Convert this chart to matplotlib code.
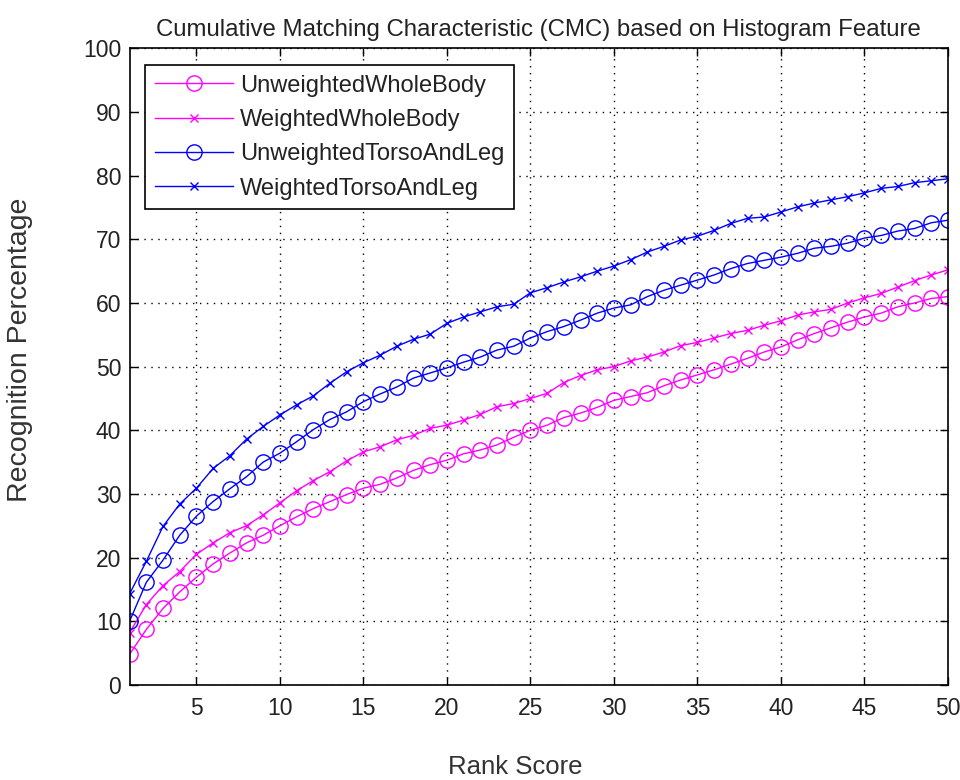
import matplotlib
matplotlib.use("Agg")
import matplotlib.pyplot as plt
import numpy as np

plt.rcParams["font.family"] = ["Liberation Sans", "DejaVu Sans"]

rank = np.arange(1, 51)

unweighted_whole = [
    4.8, 8.7, 12.0, 14.6, 16.9, 19.0, 20.7, 22.3, 23.5, 25.0,
    26.4, 27.7, 28.8, 29.9, 30.9, 31.5, 32.5, 33.7, 34.6, 35.3,
    36.3, 36.9, 37.7, 38.9, 40.0, 40.8, 42.0, 42.7, 43.6, 44.7,
    45.3, 45.9, 47.0, 47.9, 48.7, 49.5, 50.4, 51.3, 52.3, 53.1,
    54.2, 55.2, 56.1, 57.0, 57.8, 58.4, 59.4, 60.0, 60.7, 61.0,
]
weighted_whole = [
    8.2, 12.6, 15.6, 17.8, 20.5, 22.3, 23.9, 25.0, 26.7, 28.6,
    30.5, 32.1, 33.5, 35.2, 36.6, 37.4, 38.5, 39.2, 40.3, 40.8,
    41.6, 42.5, 43.7, 44.2, 45.0, 45.8, 47.5, 48.6, 49.5, 50.0,
    50.9, 51.5, 52.3, 53.3, 53.8, 54.5, 55.2, 55.7, 56.5, 57.2,
    58.1, 58.6, 59.0, 60.0, 60.8, 61.5, 62.5, 63.5, 64.4, 65.2,
]
unweighted_torso = [
    10.0, 16.1, 19.6, 23.5, 26.5, 28.8, 30.8, 32.7, 35.0, 36.4,
    38.2, 40.1, 41.7, 42.9, 44.5, 45.7, 46.8, 48.2, 49.0, 49.8,
    50.7, 51.5, 52.6, 53.2, 54.5, 55.5, 56.3, 57.3, 58.4, 59.2,
    59.7, 61.0, 62.0, 62.8, 63.6, 64.4, 65.4, 66.2, 66.7, 67.2,
    67.8, 68.6, 68.9, 69.4, 70.2, 70.6, 71.3, 71.7, 72.6, 73.0,
]
weighted_torso = [
    14.3, 19.4, 24.9, 28.4, 30.9, 34.0, 36.0, 38.6, 40.6, 42.4,
    44.0, 45.4, 47.4, 49.2, 50.6, 51.8, 53.2, 54.3, 55.1, 56.8,
    57.8, 58.6, 59.4, 59.8, 61.6, 62.4, 63.3, 64.1, 65.0, 65.8,
    66.8, 68.0, 68.9, 69.9, 70.5, 71.4, 72.5, 73.3, 73.5, 74.3,
    75.1, 75.7, 76.2, 76.7, 77.3, 78.0, 78.3, 78.9, 79.2, 79.5,
]

labels = [
    "UnweightedWholeBody",
    "WeightedWholeBody",
    "UnweightedTorsoAndLeg",
    "WeightedTorsoAndLeg",
]

fig = plt.figure(figsize=(9.6, 7.8), dpi=100)
ax = fig.add_axes([0.135, 0.122, 0.8525, 0.816])

mag = "#FF00FF"
blu = "#0000FF"
ax.plot(rank, unweighted_whole, color=mag, marker="o", markersize=11,
        markerfacecolor="none", markeredgewidth=1.0, linewidth=1.0, label=labels[0])
ax.plot(rank, weighted_whole, color=mag, marker="x", markersize=6,
        markeredgewidth=1.0, linewidth=1.0, label=labels[1])
ax.plot(rank, unweighted_torso, color=blu, marker="o", markersize=11,
        markerfacecolor="none", markeredgewidth=1.0, linewidth=1.0, label=labels[2])
ax.plot(rank, weighted_torso, color=blu, marker="x", markersize=6,
        markeredgewidth=1.0, linewidth=1.0, label=labels[3])

ax.set_xlim(1, 50)
ax.set_ylim(0, 100)
ax.set_xticks(np.arange(5, 51, 5))
ax.set_yticks(np.arange(0, 101, 10))
ax.tick_params(direction="in", top=True, right=True, labelsize=16.5, length=6,
               width=1, labelcolor="#222222")
ax.tick_params(axis="x", pad=9)
ax.tick_params(axis="y", pad=6)
ax.grid(True, color="black", linestyle=(0, (1, 4)), linewidth=1.0)
for s in ax.spines.values():
    s.set_linewidth(1.2)

ax.set_title("Cumulative Matching Characteristic (CMC) based on Histogram Feature",
             fontsize=17.3, pad=9, color="#222222")
ax.set_xlabel("Rank Score", fontsize=18.5, color="#333333")
ax.set_ylabel("Recognition Percentage", fontsize=20.5, color="#333333")
ax.xaxis.set_label_coords(0.471, -0.11)
ax.yaxis.set_label_coords(-0.118, 0.526)

leg = ax.legend(loc="upper left", bbox_to_anchor=(0.005, 0.992), fontsize=17,
                frameon=True, fancybox=False, edgecolor="black", framealpha=1,
                handlelength=3.3, borderpad=0.4, labelspacing=0.52, handletextpad=0.3)
leg.get_frame().set_linewidth(1.2)
for t in leg.get_texts():
    t.set_color("#222222")

fig.savefig("out.png", dpi=100)
